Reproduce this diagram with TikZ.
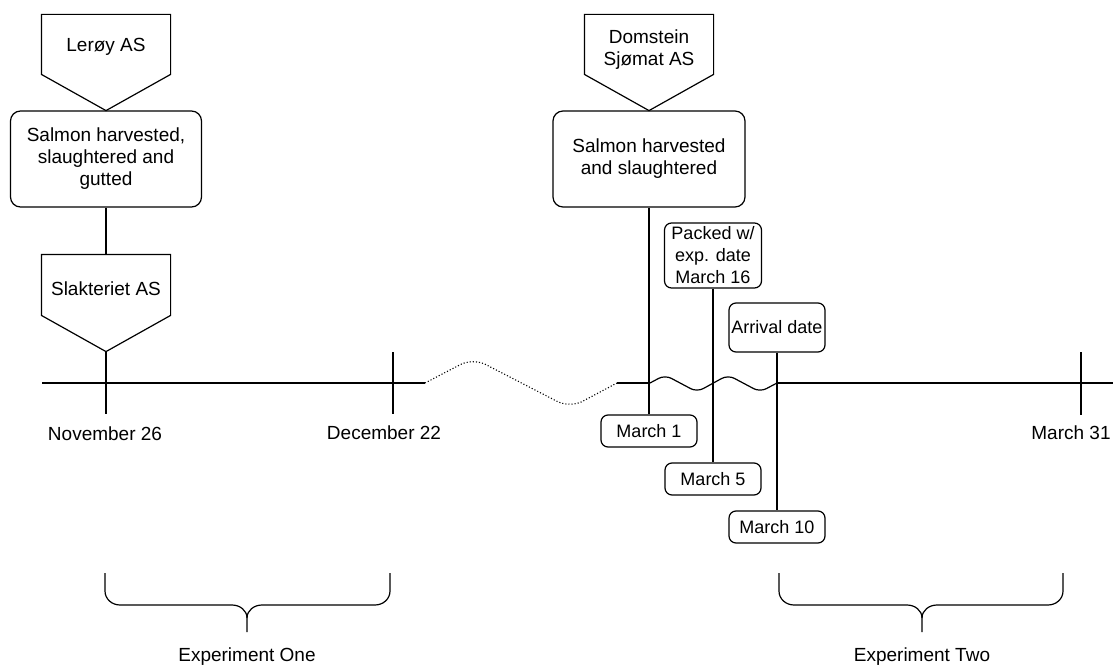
\documentclass[tikz,border=0pt]{standalone}
\usepackage{fontspec}
\setmainfont{Liberation Sans}
\usetikzlibrary{calc}
\begin{document}
\begin{tikzpicture}[x=1pt,y=-1pt, line width=1.2pt,
  box/.style={draw, rounded corners=10pt, align=center, inner sep=0pt, font=\fontsize{19}{22}\selectfont},
  small/.style={draw, rounded corners=7pt, align=center, inner sep=0pt, minimum width=96pt, font=\fontsize{18}{22}\selectfont},
  lbl/.style={font=\fontsize{19}{22}\selectfont, inner sep=0pt, align=center},
  opc/.style={inner sep=0pt, minimum width=128pt, minimum height=95pt},
  brace/.style={line width=1.2pt}]
\useasboundingbox (0,0) rectangle (1113,666);

% ---------- left column ----------
\node[opc] (lerS) at (106,62.5) {};
\draw (lerS.north west) -- (lerS.north east) -- ($(lerS.north east)+(0,60)$) -- (lerS.south) -- ($(lerS.north west)+(0,60)$) -- cycle;
\node[lbl] (ler) at (106,47) {Lerøy AS};

\node[box, minimum width=191pt, minimum height=96pt] (sal1) at (106,159) {Salmon harvested,\\slaughtered and\\gutted};

\node[opc, minimum height=96pt] (slakS) at (106,303) {};
\draw (slakS.north west) -- (slakS.north east) -- ($(slakS.north east)+(0,61)$) -- (slakS.south) -- ($(slakS.north west)+(0,61)$) -- cycle;
\node[lbl] (slak) at (106,289) {Slakteriet AS};

\draw (sal1.south) -- (slakS.north);

% ---------- timeline ----------
\coordinate (t0) at (42,383);
\coordinate (w1s) at (425,383);
\coordinate (w1e) at (617,383);
\coordinate (w2s) at (650,383);
\coordinate (w2e) at (777,383);
\coordinate (t1) at (1113,383);
\draw (t0) -- (w1s);
\draw[dotted, line width=1.1pt, rounded corners=14pt] (w1s) -- (473,358) -- (570,408) -- (w1e);
\draw (w1e) -- (w2s);
\draw[rounded corners=7pt] (w2s) -- (665,375) -- (697,392) -- (728,375) -- (760,392) -- (w2e);
\draw (w2e) -- (t1);

\coordinate (novtop) at (106,352);
\coordinate (novbot) at (106,414);
\draw (slakS.south) -- (novbot);
\coordinate (dectop) at (393,352);
\coordinate (decbot) at (393,414);
\draw (dectop) -- (decbot);
\coordinate (martop) at (1081,352);
\coordinate (marbot) at (1081,415);
\draw (martop) -- (marbot);

\node[lbl] (nov) at (105,434) {November 26};
\node[lbl] (dec) at (384,433) {December 22};
\node[lbl] (mar31) at (1071,433) {March 31};

% ---------- right column ----------
\node[opc] (domS) at (649,62.5) {};
\draw (domS.north west) -- (domS.north east) -- ($(domS.north east)+(0,60)$) -- (domS.south) -- ($(domS.north west)+(0,60)$) -- cycle;
\node[lbl] (dom) at (649,50) {Domstein\\Sjømat AS};

\node[box, minimum width=192pt, minimum height=96pt] (sal2) at (649,159) {Salmon harvested\\and slaughtered};

\node[small, minimum width=97pt, minimum height=65pt] (pack) at (713,255.5) {Packed w/\\exp. date\\March 16};
\node[small, minimum height=49pt] (arr) at (777,327.5) {Arrival date};

\node[small, minimum height=32pt] (m1) at (649,431) {March 1};
\node[small, minimum height=32pt] (m5) at (713,479) {March 5};
\node[small, minimum height=32pt] (m10) at (777,527) {March 10};

\draw (sal2.south) -- (m1.north);
\draw (pack.south) -- (m5.north);
\draw (arr.south) -- (m10.north);

% ---------- braces ----------
\coordinate (b1l) at (105,573);
\coordinate (b1r) at (390,573);
\coordinate (b1m) at (247,632);
\draw[brace] (b1l) -- (105,591) to[out=-90,in=180] (120,605) -- (232,605) to[out=0,in=90] (247,618) -- (b1m);
\draw[brace] (b1r) -- (390,591) to[out=-90,in=0] (375,605) -- (262,605) to[out=180,in=90] (247,618);
\node[lbl] (exp1) at (247,657) {Experiment One};

\coordinate (b2l) at (779,573);
\coordinate (b2r) at (1063,573);
\coordinate (b2m) at (922,632);
\draw[brace] (b2l) -- (779,591) to[out=-90,in=180] (794,605) -- (907,605) to[out=0,in=90] (922,618) -- (b2m);
\draw[brace] (b2r) -- (1063,591) to[out=-90,in=0] (1048,605) -- (937,605) to[out=180,in=90] (922,618);
\node[lbl] (exp2) at (922,657) {Experiment Two};
\end{tikzpicture}
\end{document}
